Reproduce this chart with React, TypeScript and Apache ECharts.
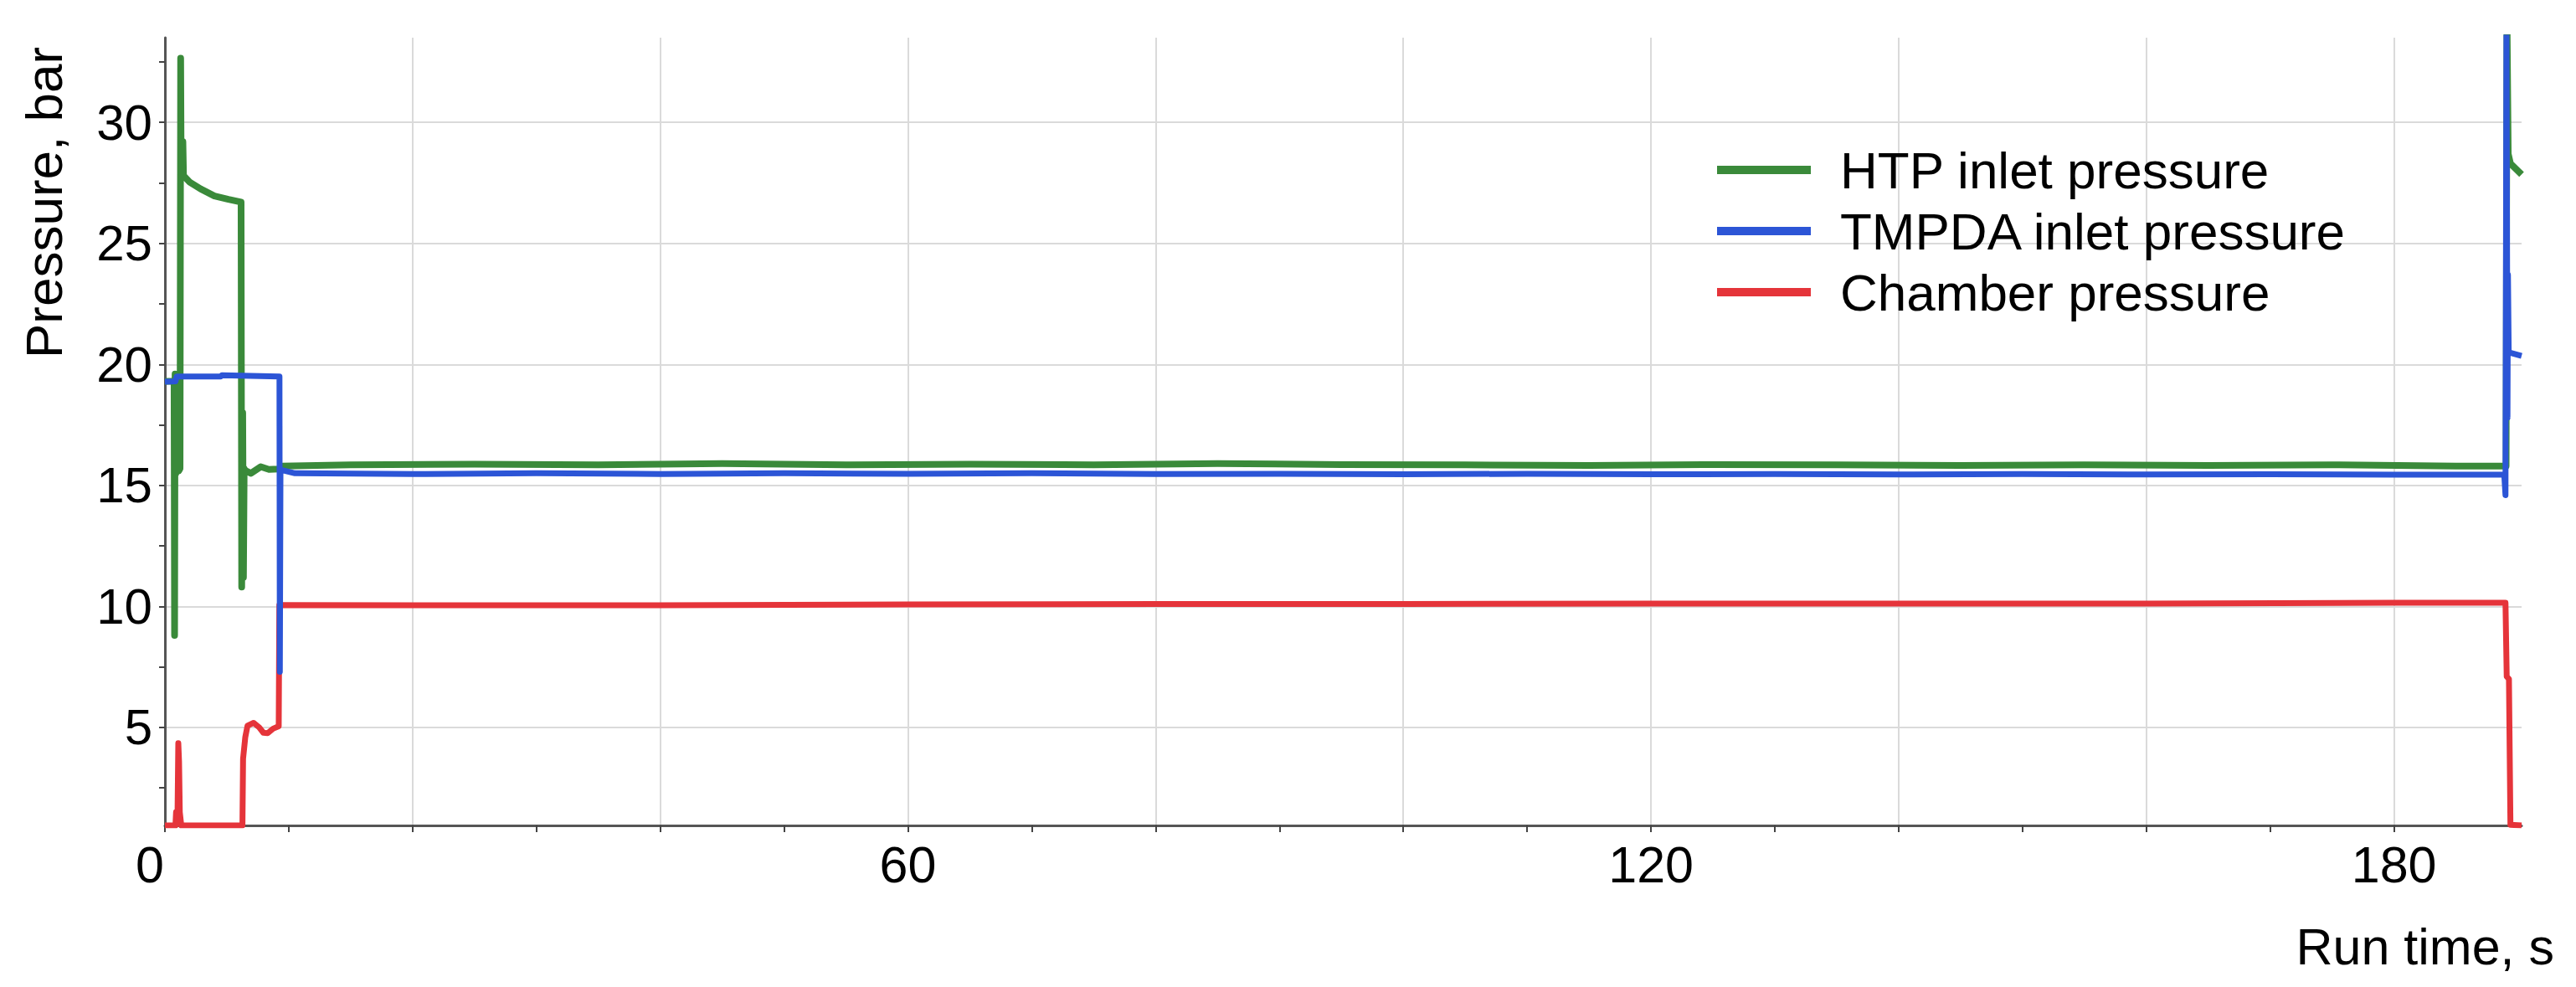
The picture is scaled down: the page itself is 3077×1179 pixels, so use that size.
import React, { useEffect, useRef } from "react";
import * as echarts from "echarts";

const FONT = "'Liberation Sans', Arial, Helvetica, sans-serif";

const seriesNames = ["HTP inlet pressure", "TMPDA inlet pressure", "Chamber pressure"];
const seriesColors = ["#3a8a3a", "#2c55d6", "#e5343a"];

// [run time s, pressure bar]
const htpInlet: [number, number][] = [
  [0, 19.3], [0.74, 19.3], [0.78, 8.8], [0.82, 19.6], [0.88, 15.5], [0.94, 19.5],
  [1.0, 15.6], [1.06, 19.4], [1.12, 15.6], [1.22, 15.7], [1.27, 32.65], [1.31, 28.0],
  [1.45, 29.2], [1.5, 27.8], [1.98, 27.54], [2.88, 27.25], [4.0, 26.96], [5.13, 26.82],
  [6.15, 26.71], [6.2, 10.8], [6.28, 18.0], [6.34, 11.2], [6.4, 15.7], [6.47, 15.62],
  [6.94, 15.5], [7.73, 15.77], [8.4, 15.66], [9.17, 15.68], [9.5, 15.8], [15, 15.85],
  [25, 15.88], [35, 15.85], [45, 15.9], [55, 15.85], [65, 15.88], [75, 15.85],
  [85, 15.9], [95, 15.86], [105, 15.85], [115, 15.82], [125, 15.86], [135, 15.85],
  [145, 15.82], [155, 15.85], [165, 15.82], [175, 15.85], [185, 15.8], [189.05, 15.8],
  [189.12, 34.5], [189.22, 28.7], [189.4, 28.3], [190.3, 27.85],
];

const tmpdaInlet: [number, number][] = [
  [0, 19.28], [0.85, 19.3], [0.95, 19.5], [4.5, 19.5], [4.6, 19.55], [9.25, 19.5],
  [9.28, 7.3], [9.33, 15.65], [10.5, 15.5], [20, 15.47], [30, 15.5], [40, 15.47],
  [50, 15.5], [60, 15.48], [70, 15.5], [80, 15.47], [90, 15.48], [100, 15.46],
  [110, 15.48], [120, 15.46], [130, 15.47], [140, 15.45], [150, 15.47], [160, 15.45],
  [170, 15.46], [180, 15.44], [188.9, 15.45], [189.0, 14.6], [189.08, 34.5],
  [189.16, 17.8], [189.2, 23.7], [189.26, 20.5], [190.3, 20.35],
];

const chamber: [number, number][] = [
  [0, 0.95], [0.85, 0.95], [0.9, 1.5], [1.02, 1.5], [1.08, 4.35], [1.14, 3.6],
  [1.2, 1.5], [1.32, 0.95], [6.26, 0.95], [6.31, 3.7], [6.49, 4.6], [6.67, 5.07],
  [7.16, 5.19], [7.61, 5.0], [7.95, 4.78], [8.29, 4.76], [8.74, 4.95], [9.19, 5.05],
  [9.24, 10.06], [20, 10.05], [40, 10.05], [60, 10.08], [80, 10.1], [100, 10.1],
  [120, 10.12], [140, 10.12], [160, 10.12], [180, 10.15], [189.0, 10.15], [189.1, 7.1],
  [189.28, 7.0], [189.4, 0.98], [190.3, 0.95],
];

const xLabelValues = [0, 60, 120, 180];
const xGridValues = [0, 20, 40, 60, 80, 100, 120, 140, 160, 180];
const xMinorTickValues = [10, 30, 50, 70, 90, 110, 130, 150, 170];
const yLabelValues = [5, 10, 15, 20, 25, 30];
const yMinorTickValues = [2.5, 7.5, 12.5, 17.5, 22.5, 27.5, 32.5];

const X_MIN = 0;
const X_MAX = 190.3;
const Y_MIN = 0.95;
const Y_MAX = 33.5;

export default function App() {
  const ref = useRef<HTMLDivElement>(null);

  useEffect(() => {
    if (!ref.current) return;
    const chart = echarts.init(ref.current, undefined, { renderer: "svg" });
    const axisLineStyle = { color: "#555555", width: 3 };
    const tickStyle = { color: "#444444", width: 2 };
    const option: any = {
      animation: false,
      backgroundColor: "#ffffff",
      textStyle: { fontFamily: FONT },
      grid: { left: 197, right: 65, top: 45, bottom: 193, containLabel: false },
      legend: {
        orient: "vertical",
        left: 2046,
        top: 167,
        itemWidth: 112,
        itemHeight: 10,
        itemGap: 11,
        icon: "rect",
        data: seriesNames,
        textStyle: {
          fontFamily: FONT,
          fontSize: 62,
          lineHeight: 62,
          color: "#000000",
          padding: [0, 0, 0, 30],
        },
      },
      xAxis: [
        {
          type: "value",
          min: X_MIN,
          max: X_MAX,
          interval: 20,
          position: "bottom",
          axisLine: { show: true, onZero: false, lineStyle: axisLineStyle },
          axisTick: { show: true, customValues: xGridValues, length: 8, lineStyle: tickStyle },
          axisLabel: {
            customValues: xLabelValues,
            fontSize: 61,
            margin: 16,
            color: "#000000",
            fontFamily: FONT,
            formatter: (v: number) => (v === 0 ? "{z|0}" : String(v)),
            rich: {
              z: { fontSize: 61, fontFamily: FONT, color: "#000000", padding: [0, 36, 0, 0] },
            },
          },
          splitLine: { show: true, lineStyle: { color: "#dadada", width: 2 } },
        },
        {
          type: "value",
          min: X_MIN,
          max: X_MAX,
          position: "bottom",
          axisLine: { show: false },
          axisTick: { show: true, customValues: xMinorTickValues, length: 8, lineStyle: tickStyle },
          axisLabel: { show: false },
          splitLine: { show: false },
        },
      ],
      yAxis: [
        {
          type: "value",
          min: Y_MIN,
          max: Y_MAX,
          position: "left",
          axisLine: { show: true, onZero: false, lineStyle: axisLineStyle },
          axisTick: { show: true, customValues: yLabelValues, length: 7, lineStyle: tickStyle },
          axisLabel: {
            customValues: yLabelValues,
            fontSize: 60,
            margin: 15,
            color: "#000000",
            fontFamily: FONT,
          },
          splitLine: { show: true, lineStyle: { color: "#dadada", width: 2 } },
        },
        {
          type: "value",
          min: Y_MIN,
          max: Y_MAX,
          position: "left",
          axisLine: { show: false },
          axisTick: { show: true, customValues: yMinorTickValues, length: 7, lineStyle: tickStyle },
          axisLabel: { show: false },
          splitLine: { show: false },
        },
      ],
      graphic: [
        {
          type: "text",
          x: 52,
          y: 242,
          rotation: Math.PI / 2,
          style: {
            text: "Pressure, bar",
            fontFamily: FONT,
            fontSize: 62,
            fill: "#000000",
            textAlign: "center",
            textVerticalAlign: "middle",
          },
        },
        {
          type: "text",
          x: 3051,
          y: 1131,
          style: {
            text: "Run time, s",
            fontFamily: FONT,
            fontSize: 61,
            fill: "#000000",
            textAlign: "right",
            textVerticalAlign: "middle",
          },
        },
      ],
      series: [
        {
          name: seriesNames[0],
          type: "line",
          data: htpInlet,
          color: seriesColors[0],
          showSymbol: false,
          symbol: "none",
          z: 3,
          lineStyle: { width: 8, join: "round" },
        },
        {
          name: seriesNames[1],
          type: "line",
          data: tmpdaInlet,
          color: seriesColors[1],
          showSymbol: false,
          symbol: "none",
          z: 4,
          lineStyle: { width: 7, join: "round" },
        },
        {
          name: seriesNames[2],
          type: "line",
          data: chamber,
          color: seriesColors[2],
          showSymbol: false,
          symbol: "none",
          z: 2,
          lineStyle: { width: 7, join: "round" },
        },
      ],
    };
    chart.setOption(option);
    return () => {
      chart.dispose();
    };
  }, []);

  return (
    <div
      ref={ref}
      style={{ position: "absolute", left: 0, top: 0, width: 3077, height: 1179, background: "#fff" }}
    />
  );
}
